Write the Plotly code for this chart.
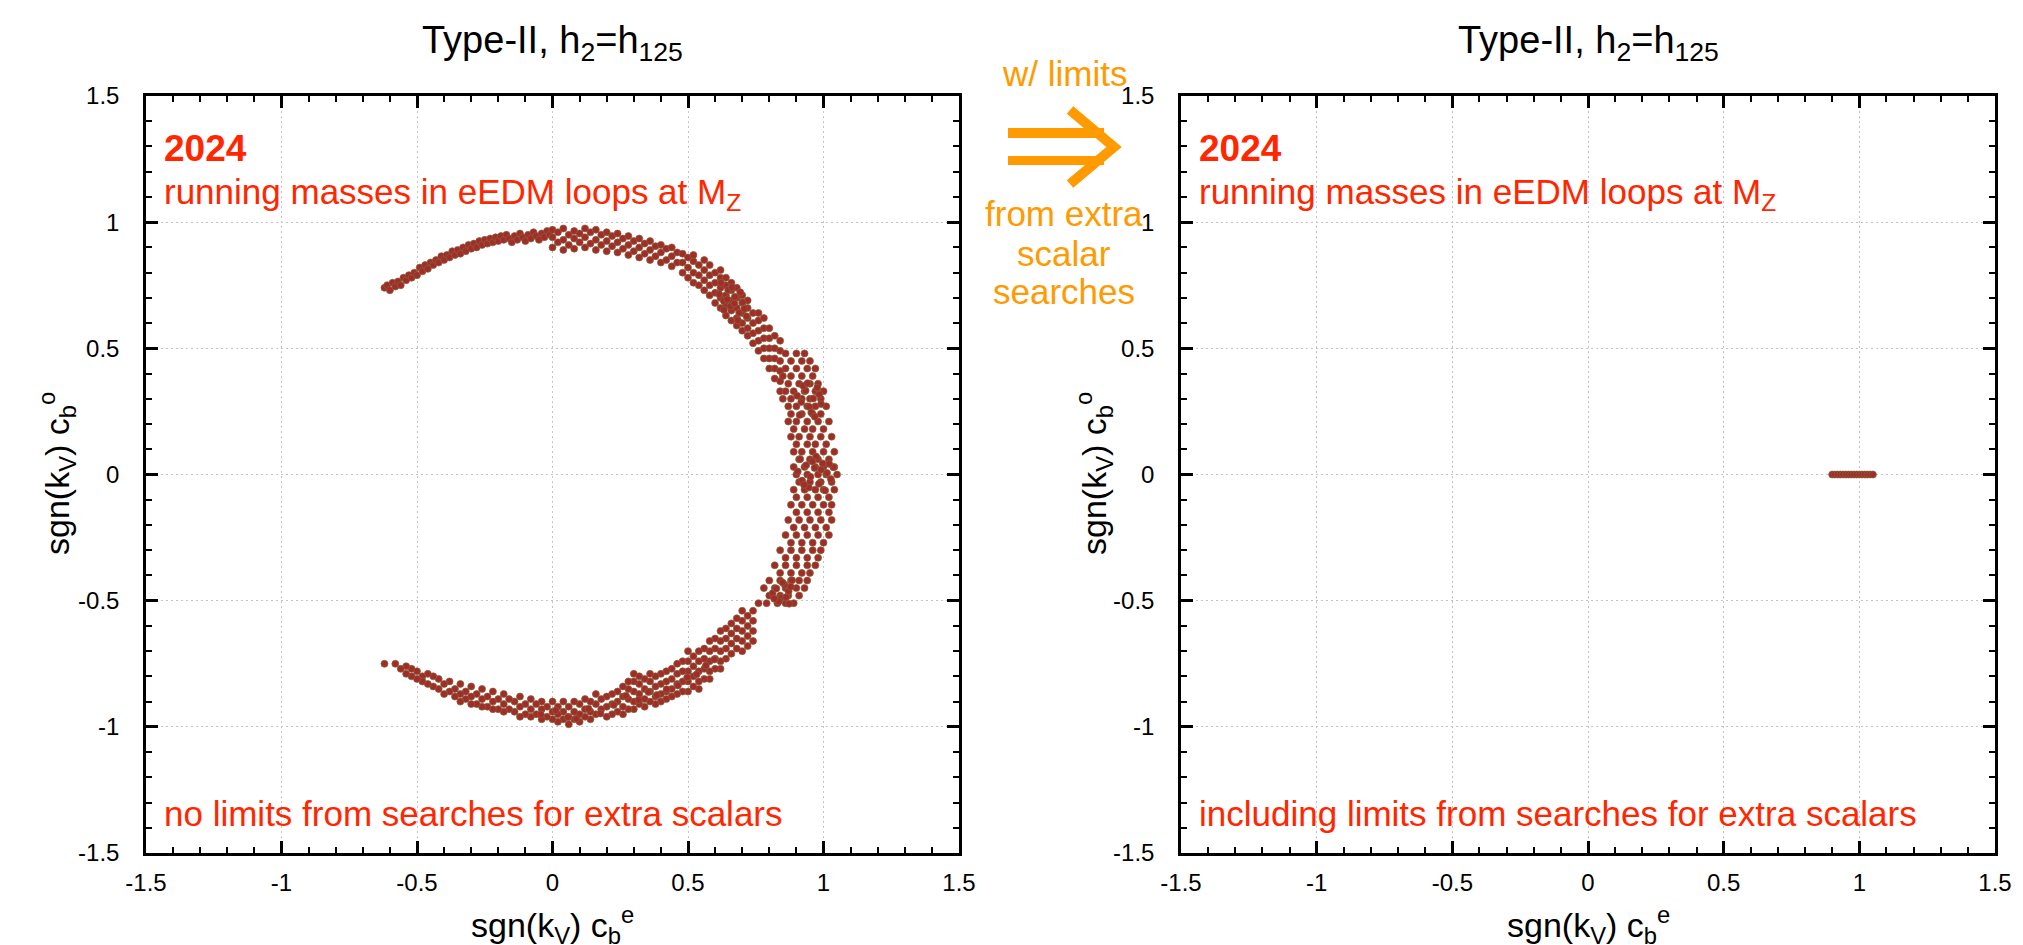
import plotly.graph_objects as go

# ---------------- data ----------------
TICK_VALS = [-1.5, -1.0, -0.5, 0.0, 0.5, 1.0, 1.5]
TICK_TEXT = ["-1.5", "-1", "-0.5", "0", "0.5", "1", "1.5"]

# Left panel (no extra-scalar limits): crescent of allowed points
# upper-left arc: individual points
ul_x = [-0.62, -0.61, -0.60, -0.59, -0.58, -0.57, -0.56, -0.55, -0.54, -0.53, -0.52, -0.51,
        -0.50, -0.49, -0.48, -0.47, -0.46, -0.45, -0.44, -0.43, -0.42, -0.41, -0.40, -0.39,
        -0.38, -0.37, -0.36, -0.35, -0.34, -0.33, -0.32, -0.31, -0.30, -0.29, -0.28, -0.27,
        -0.26, -0.25, -0.24, -0.23, -0.22, -0.21, -0.20, -0.19, -0.18, -0.17, -0.16, -0.15,
        -0.14, -0.13, -0.12, -0.11, -0.10, -0.09, -0.08, -0.07, -0.06, -0.05, -0.04, -0.03,
        -0.02, -0.01]
ul_y = [0.74, 0.75, 0.73, 0.76, 0.745, 0.765, 0.75, 0.78, 0.77, 0.79, 0.78, 0.80,
        0.79, 0.82, 0.805, 0.83, 0.815, 0.84, 0.83, 0.85, 0.84, 0.865, 0.85, 0.87,
        0.86, 0.885, 0.87, 0.89, 0.875, 0.90, 0.885, 0.91, 0.895, 0.915, 0.90, 0.925,
        0.91, 0.93, 0.915, 0.935, 0.92, 0.94, 0.925, 0.945, 0.93, 0.95, 0.935, 0.92,
        0.945, 0.93, 0.955, 0.94, 0.925, 0.95, 0.935, 0.96, 0.945, 0.93, 0.955, 0.94,
        0.965, 0.95]

# top arc: x stations with the y values seen at each
top_x = [0.00, 0.02, 0.04, 0.06, 0.08, 0.10, 0.12, 0.14, 0.16, 0.18, 0.20, 0.22,
         0.24, 0.26, 0.28, 0.30, 0.32, 0.34, 0.36, 0.38, 0.40, 0.42, 0.44, 0.46]
top_y = [[0.90, 0.94, 0.97], [0.92, 0.96], [0.89, 0.93, 0.975], [0.91, 0.95],
         [0.895, 0.935, 0.965], [0.92, 0.955], [0.90, 0.94, 0.975], [0.915, 0.96],
         [0.89, 0.93, 0.97], [0.91, 0.95], [0.885, 0.925, 0.96], [0.905, 0.945],
         [0.88, 0.92, 0.955], [0.895, 0.935], [0.87, 0.91, 0.945], [0.885, 0.925],
         [0.86, 0.90, 0.935], [0.875, 0.915], [0.85, 0.89, 0.925], [0.865, 0.905],
         [0.84, 0.88, 0.91], [0.85, 0.895], [0.825, 0.865, 0.90], [0.84, 0.88]]

# upper-right arc: x stations with y values
ur_x = [0.48, 0.50, 0.52, 0.54, 0.56, 0.58, 0.60, 0.62, 0.64, 0.66, 0.68, 0.70,
        0.72, 0.74, 0.76, 0.78, 0.80, 0.82, 0.84]
ur_y = [[0.80, 0.84, 0.875], [0.78, 0.82, 0.86], [0.76, 0.80, 0.845, 0.87],
        [0.75, 0.79, 0.83], [0.73, 0.77, 0.81, 0.85], [0.71, 0.75, 0.79, 0.83],
        [0.68, 0.72, 0.76, 0.80], [0.66, 0.70, 0.74, 0.78, 0.81],
        [0.63, 0.67, 0.71, 0.75, 0.78], [0.61, 0.65, 0.69, 0.73, 0.76],
        [0.59, 0.62, 0.66, 0.70, 0.74], [0.57, 0.60, 0.64, 0.68, 0.71],
        [0.55, 0.58, 0.62, 0.66, 0.69], [0.52, 0.56, 0.60, 0.64],
        [0.49, 0.53, 0.57, 0.61, 0.64], [0.46, 0.50, 0.54, 0.58, 0.62],
        [0.42, 0.46, 0.50, 0.54, 0.58], [0.38, 0.42, 0.46, 0.50, 0.55],
        [0.33, 0.37, 0.41, 0.45, 0.49, 0.53]]

# right side of the crescent: y rows with the x values seen at each
rs_y = [0.48, 0.45, 0.42, 0.39, 0.36, 0.33, 0.30, 0.27, 0.24, 0.21, 0.18, 0.15,
        0.12, 0.09, 0.06, 0.03, 0.00, -0.03, -0.06, -0.09, -0.12, -0.15, -0.18, -0.21,
        -0.24, -0.27, -0.30, -0.33, -0.36, -0.39, -0.42, -0.45, -0.48, -0.51]
rs_x = [[0.86, 0.90, 0.93], [0.88, 0.92, 0.95], [0.86, 0.90, 0.94, 0.97],
        [0.85, 0.88, 0.92, 0.96], [0.87, 0.91, 0.95, 0.98], [0.86, 0.89, 0.93, 0.97, 1.00],
        [0.85, 0.88, 0.92, 0.95, 0.99], [0.87, 0.90, 0.94, 0.97, 1.01],
        [0.88, 0.92, 0.96, 0.99], [0.87, 0.90, 0.94, 0.98, 1.02],
        [0.89, 0.93, 0.96, 1.00], [0.88, 0.91, 0.95, 0.99, 1.03],
        [0.90, 0.94, 0.97, 1.01], [0.89, 0.92, 0.96, 1.00, 1.04],
        [0.91, 0.95, 0.98, 1.02], [0.89, 0.93, 0.97, 1.00, 1.04],
        [0.90, 0.94, 0.98, 1.01, 1.05], [0.91, 0.95, 0.99, 1.03],
        [0.89, 0.93, 0.97, 1.00, 1.04], [0.90, 0.94, 0.98, 1.02],
        [0.88, 0.92, 0.96, 1.00, 1.03], [0.90, 0.94, 0.98, 1.02],
        [0.87, 0.91, 0.95, 0.99, 1.03], [0.89, 0.93, 0.97, 1.01],
        [0.86, 0.90, 0.94, 0.98, 1.02], [0.88, 0.92, 0.96, 1.00],
        [0.84, 0.88, 0.92, 0.96, 0.99], [0.86, 0.90, 0.94, 0.98],
        [0.82, 0.86, 0.90, 0.94, 0.97], [0.84, 0.88, 0.92, 0.95],
        [0.80, 0.84, 0.88, 0.91, 0.94], [0.78, 0.82, 0.86, 0.90, 0.93],
        [0.80, 0.84, 0.87, 0.91], [0.76, 0.79, 0.83, 0.86, 0.89]]

# lower arc: x stations with y values
bot_x = [0.74, 0.72, 0.70, 0.68, 0.66, 0.64, 0.62, 0.60, 0.58, 0.56, 0.54, 0.52,
         0.50, 0.48, 0.46, 0.44, 0.42, 0.40, 0.38, 0.36, 0.34, 0.32, 0.30, 0.28,
         0.26, 0.24, 0.22, 0.20, 0.18, 0.16, 0.14, 0.12, 0.10, 0.08, 0.06, 0.04,
         0.02, 0.00, -0.02, -0.04, -0.06, -0.08, -0.10, -0.12, -0.14, -0.16, -0.18, -0.20,
         -0.22, -0.24, -0.26, -0.28, -0.30, -0.32, -0.34, -0.36, -0.38, -0.40, -0.42, -0.44,
         -0.46, -0.48, -0.50, -0.52, -0.54, -0.56, -0.58, -0.62]
bot_y = [[-0.54, -0.58, -0.62, -0.66], [-0.56, -0.60, -0.64, -0.68],
         [-0.54, -0.58, -0.62, -0.66, -0.70], [-0.57, -0.61, -0.65, -0.69],
         [-0.59, -0.63, -0.67, -0.71], [-0.61, -0.65, -0.69, -0.73],
         [-0.62, -0.66, -0.70, -0.74, -0.77], [-0.65, -0.69, -0.73, -0.77],
         [-0.66, -0.70, -0.74, -0.78, -0.81], [-0.69, -0.73, -0.77, -0.81],
         [-0.70, -0.74, -0.78, -0.82, -0.85], [-0.72, -0.76, -0.80, -0.84],
         [-0.70, -0.74, -0.78, -0.82, -0.86], [-0.74, -0.78, -0.82, -0.86],
         [-0.75, -0.79, -0.83, -0.87], [-0.77, -0.81, -0.85, -0.88],
         [-0.78, -0.82, -0.86, -0.89], [-0.79, -0.83, -0.87, -0.90],
         [-0.80, -0.84, -0.88, -0.91], [-0.79, -0.82, -0.86, -0.90],
         [-0.81, -0.85, -0.89, -0.92], [-0.80, -0.83, -0.87, -0.91],
         [-0.79, -0.82, -0.86, -0.90, -0.93], [-0.82, -0.85, -0.89, -0.93],
         [-0.84, -0.88, -0.92, -0.95], [-0.86, -0.90, -0.94],
         [-0.87, -0.91, -0.95], [-0.88, -0.92, -0.96], [-0.89, -0.93],
         [-0.87, -0.91, -0.95], [-0.90, -0.94, -0.97], [-0.89, -0.93, -0.96],
         [-0.91, -0.95, -0.98], [-0.90, -0.94, -0.97], [-0.92, -0.96, -0.99],
         [-0.90, -0.94, -0.97], [-0.92, -0.95, -0.98], [-0.90, -0.94, -0.97],
         [-0.92, -0.96], [-0.90, -0.93, -0.97], [-0.91, -0.95],
         [-0.89, -0.93, -0.96], [-0.91, -0.95], [-0.88, -0.92, -0.96],
         [-0.90, -0.94], [-0.89, -0.93], [-0.87, -0.91, -0.94], [-0.89, -0.93],
         [-0.86, -0.90, -0.93], [-0.88, -0.92], [-0.85, -0.89, -0.92], [-0.87, -0.91],
         [-0.84, -0.88, -0.91], [-0.86, -0.89], [-0.83, -0.87, -0.90], [-0.85, -0.88],
         [-0.82, -0.86], [-0.83, -0.87], [-0.81, -0.85], [-0.80, -0.84],
         [-0.79, -0.83], [-0.80, -0.82], [-0.78, -0.81], [-0.77, -0.80],
         [-0.76, -0.79], [-0.77], [-0.75], [-0.75]]

# extra scattered points in the densest parts of the crescent
dense_x = [0.615, 0.632, 0.648, 0.657, 0.673, 0.689, 0.701, 0.716, 0.633, 0.662, 0.684, 0.708,
           0.645, 0.671, 0.693, 0.622,
           0.903, 0.918, 0.934, 0.947, 0.962, 0.977, 0.991, 0.925, 0.955, 0.984, 0.912, 0.941,
           0.968,
           0.905, 0.921, 0.936, 0.952, 0.967, 0.983, 0.997, 1.013, 1.027, 0.914, 0.946, 0.973,
           1.006, 1.036, 0.928, 0.959, 0.991, 1.021,
           0.812, 0.826, 0.843, 0.857, 0.871, 0.884, 0.835, 0.862, 0.879, 0.818, 0.849, 0.873,
           0.532, 0.566, 0.597, 0.463, 0.497, 0.385, 0.421, 0.226, 0.271, 0.318, 0.354, 0.088,
           0.133, 0.177, -0.043, 0.012, 0.057]
dense_y = [0.715, 0.688, 0.731, 0.667, 0.704, 0.641, 0.683, 0.627, 0.652, 0.742, 0.611, 0.657,
           0.694, 0.678, 0.722, 0.759,
           0.312, 0.287, 0.333, 0.268, 0.301, 0.344, 0.279, 0.352, 0.246, 0.318, 0.236, 0.362,
           0.229,
           0.012, -0.024, 0.037, -0.009, 0.026, -0.037, 0.044, 0.006, -0.018, 0.061, -0.052, 0.071,
           -0.063, 0.029, -0.041, 0.052, 0.019, 0.042,
           -0.471, -0.452, -0.488, -0.437, -0.463, -0.419, -0.503, -0.486, -0.445, -0.492, -0.428,
           -0.512,
           -0.792, -0.757, -0.733, -0.836, -0.804, -0.874, -0.851, -0.913, -0.877, -0.893, -0.862,
           -0.968, -0.928, -0.947, -0.951, -0.935, -0.962]

# Right panel (with extra-scalar limits): short horizontal segment at y = 0
r_x = [0.90, 0.91, 0.92, 0.93, 0.94, 0.95, 0.96, 0.97, 0.98, 0.99, 1.00, 1.01,
       1.02, 1.03, 1.04, 1.05]
r_y = [0.0, 0.0, 0.0, 0.0, 0.0, 0.0, 0.0, 0.0, 0.0, 0.0, 0.0, 0.0,
       0.0, 0.0, 0.0, 0.0]

PANEL_TITLE = "Type-II, h<sub>2</sub>=h<sub>125</sub>"
X_TITLE = "sgn(k<sub>V</sub>) c<sub>b</sub><sup>e</sup>"
Y_TITLE = "sgn(k<sub>V</sub>) c<sub>b</sub><sup>o</sup>"
YEAR = "2024"
SUBTITLE = "running masses in eEDM loops at M<sub>Z</sub>"
NOTE_LEFT = "no limits from searches for extra scalars"
NOTE_RIGHT = "including limits from searches for extra scalars"
ARROW_TOP = "w/ limits"
ARROW_LINES = ["from extra", "scalar", "searches"]


def by_columns(xs, ys_lists):
    px, py = [], []
    for x, ys in zip(xs, ys_lists):
        for y in ys:
            px.append(x)
            py.append(y)
    return px, py


def by_rows(ys, xs_lists):
    px, py = [], []
    for y, xs in zip(ys, xs_lists):
        for x in xs:
            px.append(x)
            py.append(y)
    return px, py


lx, ly = list(ul_x), list(ul_y)
for a, b in (by_columns(top_x, top_y), by_columns(ur_x, ur_y),
             by_rows(rs_y, rs_x), by_columns(bot_x, bot_y), (dense_x, dense_y)):
    lx += list(a)
    ly += list(b)

# ---------------- figure ----------------
W, H = 2023, 945
FONT = "Liberation Sans, Arial, Helvetica, sans-serif"
RED = "#ff2600"
ORANGE = "#ff9a00"
PT_COLOR = "#a52a2a"
PT_EDGE = "#7a6a38"


def px_x(p):
    return p / W


def px_y(p):
    return 1 - p / H


L_DOM = [px_x(138), px_x(951)]
R_DOM = [px_x(1173), px_x(1987)]
Y_DOM = [px_y(845), px_y(88)]

marker = dict(size=7, color=PT_COLOR, line=dict(color=PT_EDGE, width=0.7))

fig = go.Figure()
fig.add_trace(go.Scatter(x=lx, y=ly, mode="markers", marker=marker,
                         xaxis="x", yaxis="y", showlegend=False, hoverinfo="x+y"))
fig.add_trace(go.Scatter(x=r_x, y=r_y, mode="markers", marker=marker,
                         xaxis="x2", yaxis="y2", showlegend=False, hoverinfo="x+y"))

axis_common = dict(
    range=[-1.5, 1.5], tickmode="array", tickvals=TICK_VALS, ticktext=TICK_TEXT,
    ticks="inside", ticklen=12, tickwidth=2.5, tickcolor="black",
    showline=True, linewidth=2.5, linecolor="black", mirror="ticks",
    showgrid=True, gridcolor="#c4c4c4", griddash="2px,3px", gridwidth=1,
    zeroline=False,
    tickfont=dict(family=FONT, size=24, color="black"),
    minor=dict(tickmode="linear", tick0=0, dtick=0.1, ticks="inside", ticklen=6,
               tickwidth=2, tickcolor="black", showgrid=False),
    automargin=False, fixedrange=True,
)

fig.update_layout(
    width=W, height=H, margin=dict(l=0, r=0, t=0, b=0),
    paper_bgcolor="white", plot_bgcolor="white", showlegend=False,
    font=dict(family=FONT, color="black"),
    xaxis=dict(domain=L_DOM, anchor="y", ticklabelstandoff=6, **axis_common),
    yaxis=dict(domain=Y_DOM, anchor="x", ticklabelstandoff=19, **axis_common),
    xaxis2=dict(domain=R_DOM, anchor="y2", ticklabelstandoff=6, **axis_common),
    yaxis2=dict(domain=Y_DOM, anchor="x2", ticklabelstandoff=19, **axis_common),
)

ann = []
for cx, yfig_x, xr, yr in ((544.5, 49, "x", "y"), (1580, 1086, "x2", "y2")):
    ann.append(dict(text=PANEL_TITLE, x=px_x(cx), y=px_y(35), xref="paper", yref="paper",
                    xanchor="center", yanchor="middle", showarrow=False,
                    font=dict(family=FONT, size=38, color="black")))
    ann.append(dict(text=X_TITLE, x=px_x(cx), y=px_y(917), xref="paper", yref="paper",
                    xanchor="center", yanchor="middle", showarrow=False,
                    font=dict(family=FONT, size=34, color="black")))
    ann.append(dict(text=Y_TITLE, x=px_x(yfig_x), y=px_y(466), xref="paper", yref="paper",
                    xanchor="center", yanchor="middle", showarrow=False, textangle=-90,
                    font=dict(family=FONT, size=34, color="black")))
    ann.append(dict(text="<b>" + YEAR + "</b>", x=-1.44, y=1.29, xref=xr, yref=yr,
                    xanchor="left", yanchor="middle", showarrow=False,
                    font=dict(family=FONT, size=37, color=RED)))
    ann.append(dict(text=SUBTITLE, x=-1.44, y=1.11, xref=xr, yref=yr,
                    xanchor="left", yanchor="middle", showarrow=False,
                    font=dict(family=FONT, size=35, color=RED)))

ann.append(dict(text=NOTE_LEFT, x=-1.44, y=-1.345, xref="x", yref="y",
                xanchor="left", yanchor="middle", showarrow=False,
                font=dict(family=FONT, size=35, color=RED)))
ann.append(dict(text=NOTE_RIGHT, x=-1.44, y=-1.345, xref="x2", yref="y2",
                xanchor="left", yanchor="middle", showarrow=False,
                font=dict(family=FONT, size=35, color=RED)))

ann.append(dict(text=ARROW_TOP, x=px_x(1056), y=px_y(66), xref="paper", yref="paper",
                xanchor="center", yanchor="middle", showarrow=False,
                font=dict(family=FONT, size=35, color=ORANGE)))
for txt, cy in zip(ARROW_LINES, (205, 245, 283)):
    ann.append(dict(text=txt, x=px_x(1056), y=px_y(cy), xref="paper", yref="paper",
                    xanchor="center", yanchor="middle", showarrow=False,
                    font=dict(family=FONT, size=35, color=ORANGE)))

shapes = [
    dict(type="rect", xref="paper", yref="paper", x0=px_x(1000), x1=px_x(1096),
         y0=px_y(130), y1=px_y(120), fillcolor=ORANGE, line=dict(width=0)),
    dict(type="rect", xref="paper", yref="paper", x0=px_x(1000), x1=px_x(1096),
         y0=px_y(157), y1=px_y(148), fillcolor=ORANGE, line=dict(width=0)),
    dict(type="path", xref="paper", yref="paper",
         path="M %f %f L %f %f L %f %f" % (px_x(1062), px_y(102), px_x(1106), px_y(139),
                                           px_x(1062), px_y(176)),
         line=dict(color=ORANGE, width=10)),
]

fig.update_layout(annotations=ann, shapes=shapes)
fig.write_html("out.html")
